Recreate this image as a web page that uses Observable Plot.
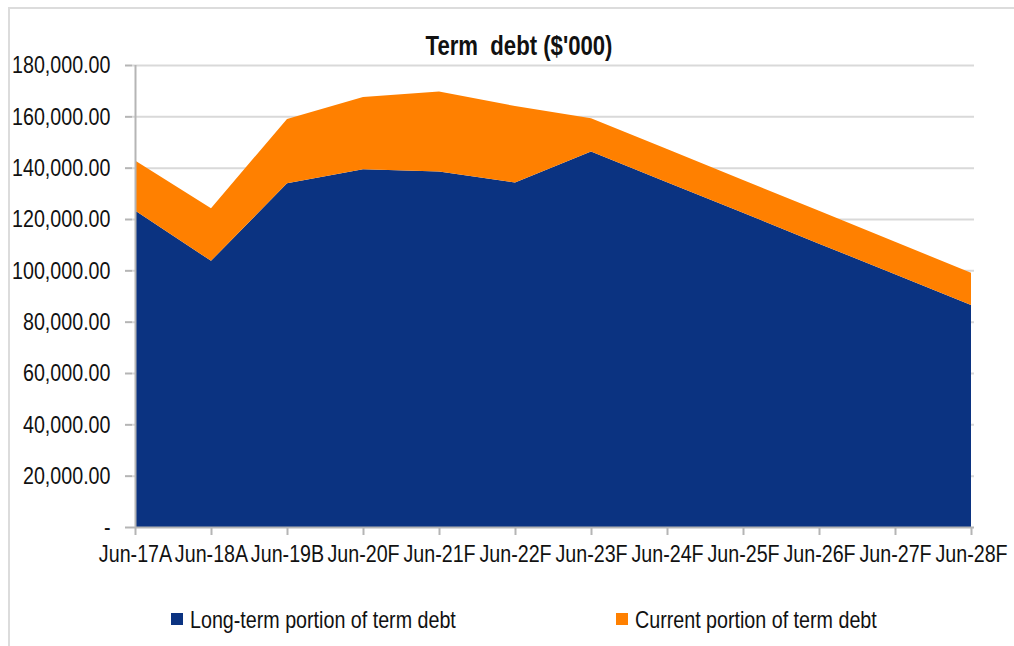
<!DOCTYPE html>
<html>
<head>
<meta charset="utf-8">
<script src="https://cdn.jsdelivr.net/npm/d3@7"></script>
<script src="https://cdn.jsdelivr.net/npm/@observablehq/plot@0.6"></script>
<style>
  html, body { margin: 0; padding: 0; background: #fff; }
  #wrap { position: relative; width: 1014px; height: 646px; overflow: hidden;
    font-family: "Liberation Sans", Arial, sans-serif; color: #111; }
  #frame { position: absolute; left: 8px; top: 7px; right: -4px; bottom: -4px;
    border-left: 2px solid #dcdcdc; border-top: 2px solid #dcdcdc; }
  #title { position: absolute; left: 269px; width: 500px; top: 30px; text-align: center;
    font-weight: bold; font-size: 27px; line-height: 32px; transform: scaleX(0.82); transform-origin: 50% 50%; }
  #chart { position: absolute; left: 0; top: 60px; }
  .sw { position: absolute; width: 12px; height: 12px; top: 613px; }
  .lt { position: absolute; top: 605px; font-size: 24px; line-height: 29px; white-space: nowrap;
    transform: scaleX(0.82); transform-origin: 0 50%; }
</style>
</head>
<body>
<div id="wrap">
  <div id="frame"></div>
  <div id="title">Term&nbsp; debt ($'000)</div>
  <div id="chart"></div>
  <div class="sw" style="left:171px;background:#0b3381"></div>
  <div class="lt" style="left:190px">Long-term portion of term debt</div>
  <div class="sw" style="left:616px;background:#ff8000"></div>
  <div class="lt" style="left:635px">Current portion of term debt</div>
</div>
<script>
const categories = ["Jun-17A", "Jun-18A", "Jun-19B", "Jun-20F", "Jun-21F", "Jun-22F", "Jun-23F", "Jun-24F", "Jun-25F", "Jun-26F", "Jun-27F", "Jun-28F"];
const seriesNames = ["Long-term portion of term debt", "Current portion of term debt"];
const longTerm = [123300, 103700, 133900, 139400, 138500, 134200, 146300, 134300, 122400, 110400, 98500, 86500];
const currentPortion = [19500, 20500, 25100, 28100, 31200, 29800, 13000, 13000, 12800, 12800, 12600, 12600];
const yTicks = [0, 20000, 40000, 60000, 80000, 100000, 120000, 140000, 160000, 180000];
const colors = ["#0b3381", "#ff8000"];

const data = [];
categories.forEach((c, i) => {
  data.push({cat: c, series: seriesNames[0], value: longTerm[i]});
  data.push({cat: c, series: seriesNames[1], value: currentPortion[i]});
});

const fontFamily = '"Liberation Sans", Arial, sans-serif';
const fmt = d => d === 0 ? "-" : d3.format(",.2f")(d);

const plot = Plot.plot({
  width: 1014,
  height: 520,
  marginLeft: 132,
  marginRight: 40,
  marginTop: 5,
  marginBottom: 53,
  style: {fontFamily, fontSize: "24px", color: "#111", background: "transparent", overflow: "visible"},
  x: {type: "point", domain: categories, padding: 0},
  y: {domain: [0, 180000]},
  color: {domain: seriesNames, range: colors},
  marks: [
    Plot.ruleY(yTicks.filter(d => d > 0), {stroke: "#d9d9d9", strokeWidth: 2}),
    Plot.areaY(data, {x: "cat", y: "value", fill: "series", order: seriesNames, curve: "linear"}),
    Plot.ruleX([categories[0]], {stroke: "#b5b5b5", strokeWidth: 2, y1: 0, y2: 180000}),
    Plot.ruleY([0], {stroke: "#b5b5b5", strokeWidth: 2}),
    Plot.axisY({ticks: yTicks, tickFormat: fmt, tickSize: 7, tickPadding: 15, fontSize: 24, stroke: "#b5b5b5", strokeWidth: 2, fill: "#111", label: null}),
    Plot.axisX({tickSize: 8, tickPadding: 9, fontSize: 24, stroke: "#b5b5b5", strokeWidth: 2, fill: "#111", label: null})
  ]
});
// emulate a narrow face: compress each label horizontally around its anchor
plot.querySelectorAll("text").forEach(t => {
  const tr = t.getAttribute("transform");
  if (tr) t.setAttribute("transform", tr + " scale(0.82,1)");
});
document.getElementById("chart").appendChild(plot);
</script>
</body>
</html>
